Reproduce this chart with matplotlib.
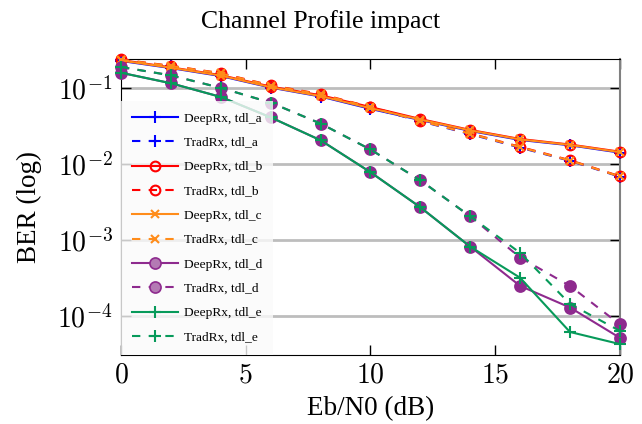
import math
import matplotlib
matplotlib.use("Agg")
import matplotlib.pyplot as plt
from matplotlib.ticker import FuncFormatter, FixedLocator

plt.rcParams['font.family'] = ['Liberation Serif', 'DejaVu Serif']
plt.rcParams['mathtext.fontset'] = 'cm'

# Eb/N0 points (dB)
ebn0 = [0, 2, 4, 6, 8, 10, 12, 14, 16, 18, 20]

# BER per receiver / channel profile
deep_a = [0.226, 0.182, 0.143, 0.101, 0.077, 0.053, 0.0378, 0.0272, 0.0207, 0.0176, 0.0141]
trad_a = [0.232, 0.192, 0.153, 0.106, 0.081, 0.055, 0.0365, 0.0247, 0.0164, 0.0110, 0.0068]
deep_b = [0.232, 0.186, 0.147, 0.104, 0.080, 0.056, 0.0390, 0.0280, 0.0213, 0.0180, 0.0145]
trad_b = [0.236, 0.195, 0.156, 0.108, 0.083, 0.056, 0.0372, 0.0252, 0.0168, 0.0112, 0.0069]
deep_c = [0.229, 0.184, 0.145, 0.102, 0.078, 0.054, 0.0383, 0.0276, 0.0210, 0.0178, 0.0143]
trad_c = [0.234, 0.194, 0.155, 0.107, 0.082, 0.0555, 0.0368, 0.0250, 0.0166, 0.0111, 0.00685]
deep_d = [0.158, 0.115, 0.076, 0.041, 0.0205, 0.0078, 0.0027, 0.00082, 0.00025, 0.00013, 5.2e-5]
trad_d = [0.188, 0.146, 0.100, 0.064, 0.034, 0.0155, 0.0061, 0.00205, 0.00059, 0.00025, 7.8e-5]
deep_e = [0.158, 0.115, 0.076, 0.041, 0.0205, 0.0078, 0.0027, 0.00082, 0.00032, 6.2e-5, 4.3e-5]
trad_e = [0.188, 0.146, 0.100, 0.064, 0.034, 0.0155, 0.0061, 0.00205, 0.00068, 0.000145, 6.4e-5]

blue = '#0000ff'
red = '#ff0000'
orange = '#ff8c1a'
purple = '#8e2a8e'
green = '#079a5a'

fig = plt.figure(figsize=(6.42, 4.24), dpi=100)
ax = fig.add_axes([0.1885, 0.163, 0.777, 0.698])

lw = 1.5
dash = (0, (4, 4))
series = [
    (deep_a, '-', blue, '+', dict(ms=9, mew=1.5), 'DeepRx, tdl_a'),
    (trad_a, dash, blue, '+', dict(ms=9, mew=1.5), 'TradRx, tdl_a'),
    (deep_b, '-', red, 'o', dict(ms=7, mew=1.5, mfc='none'), 'DeepRx, tdl_b'),
    (trad_b, dash, red, 'o', dict(ms=7, mew=1.5, mfc='none'), 'TradRx, tdl_b'),
    (deep_c, '-', orange, 'x', dict(ms=6, mew=1.5), 'DeepRx, tdl_c'),
    (trad_c, dash, orange, 'x', dict(ms=6, mew=1.5), 'TradRx, tdl_c'),
    (deep_d, '-', purple, 'o', dict(ms=8, mew=1.2, mfc=purple), 'DeepRx, tdl_d'),
    (trad_d, dash, purple, 'o', dict(ms=8, mew=1.2, mfc=purple), 'TradRx, tdl_d'),
    (deep_e, '-', green, '+', dict(ms=9, mew=1.5), 'DeepRx, tdl_e'),
    (trad_e, dash, green, '+', dict(ms=9, mew=1.5), 'TradRx, tdl_e'),
]
for vals, ls, col, mk, mkw, lab in series:
    ax.plot(ebn0, vals, linestyle=ls, color=col, marker=mk, lw=lw,
            label=lab, clip_on=False, zorder=3, **mkw)

ax.set_yscale('log')
ax.set_xlim(0, 20)
ax.set_ylim(3.1e-5, 0.24)
ax.xaxis.set_major_locator(FixedLocator([0, 5, 10, 15, 20]))
ax.yaxis.set_major_locator(FixedLocator([1e-4, 1e-3, 1e-2, 1e-1]))
ax.yaxis.set_minor_locator(FixedLocator([]))
ax.xaxis.set_major_formatter(FuncFormatter(lambda v, p: '$%d$' % v))
ax.yaxis.set_major_formatter(FuncFormatter(lambda v, p: '$10^{%d}$' % round(math.log10(v))))
ax.tick_params(direction='in', length=7, width=1, top=True, right=True,
               labelsize=20, pad=6)
ax.grid(axis='y', color='#bdbdbd', lw=2, zorder=0)
ax.set_axisbelow(True)
ax.spines['right'].set_color('#808080')
ax.spines['right'].set_linewidth(1.5)

ax.set_xlabel('Eb/N0 (dB)', fontsize=19.5, labelpad=6)
ax.set_ylabel('BER (log)', fontsize=19.5, labelpad=11)
# title is centred on the whole figure, not on the axes
fig.text(0.5, 1 - 28 / 424, 'Channel Profile impact', fontsize=18.5,
         ha='center', va='baseline')

leg = ax.legend(loc='lower left', fontsize=9.6, handlelength=3.4, handletextpad=0.45,
                labelspacing=0.9, borderaxespad=0, frameon=True, fancybox=False,
                framealpha=0.8, borderpad=0.85)
leg.get_frame().set_edgecolor('none')
leg.get_frame().set_facecolor('#fbfbfb')
leg.set_zorder(5)
# legend circles for tdl_d have a lighter fill in the original
for h in leg.legend_handles[6:8]:
    h.set_markerfacecolor('#b47ab4')

fig.savefig('out.png', dpi=100)
